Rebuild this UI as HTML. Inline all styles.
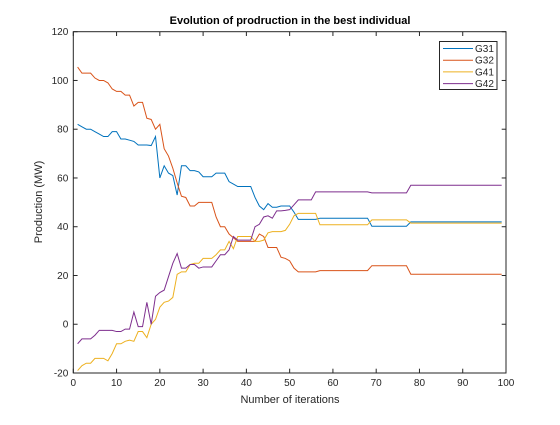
<!DOCTYPE html>
<html><head><meta charset="utf-8"><style>
body{margin:0;background:#fff;font-family:"Liberation Sans",sans-serif}
svg text{font-family:"Liberation Sans",sans-serif}
</style></head><body>
<svg id="chart" width="560" height="420" xmlns="http://www.w3.org/2000/svg">
<rect width="560" height="420" fill="#fff"/>
<text x="290" y="24" text-anchor="middle" font-size="11" font-weight="bold" fill="#000">Evolution of prodruction in the best individual</text>
<text x="290" y="403" text-anchor="middle" font-size="11" fill="#262626">Number of iterations</text>
<text transform="translate(42,202) rotate(-90)" text-anchor="middle" font-size="11" fill="#262626">Production (MW)</text>
<g id="ticks"></g>
<g id="lines"></g>
<rect x="73.3" y="31.7" width="432.7" height="341.3" fill="none" stroke="#262626" stroke-width="1"/>
<g id="legend"></g>
</svg>
<script>
const seriesNames=["G31","G32","G41","G42"];
const colors=["#0072BD","#D95319","#EDB120","#7E2F8E"];
const xTicks=[0,10,20,30,40,50,60,70,80,90,100];
const yTicks=[-20,0,20,40,60,80,100,120];
const g31=[82,81,80,80,79,78,77,77,79,79,76,76,75.5,75,73.5,73.5,73.5,73.3,77,60,65,62,61,53,65,65,63,63,62.5,60.5,60.5,60.5,62,62,62,58.5,57.5,56.5,56.5,56.5,56.5,52,48.5,47,49.5,48,48,48.5,48.5,48.5,46,43,43,43,43,43,43.5,43.5,43.5,43.5,43.5,43.5,43.5,43.5,43.5,43.5,43.5,43.5,40.2,40.2,40.2,40.2,40.2,40.2,40.2,40.2,40.2,42,42,42,42,42,42,42,42,42,42,42,42,42,42,42,42,42,42,42,42,42,42];
const g32=[105.5,103,103,103,101,100,100,99,96.5,95.5,95.5,94,94,89.5,91,91,84.5,84,80,82,72,69,64,58,52.5,52,48.5,48.5,50,50,50,50,44,40,40,37,35.5,34,34,34,34,34,37,36,31.5,31.5,31.5,27.5,27,26,23,21.5,21.5,21.5,21.5,21.5,22,22,22,22,22,22,22,22,22,22,22,22,24,24,24,24,24,24,24,24,24,20.5,20.5,20.5,20.5,20.5,20.5,20.5,20.5,20.5,20.5,20.5,20.5,20.5,20.5,20.5,20.5,20.5,20.5,20.5,20.5,20.5,20.5];
const g41=[-19,-17,-16,-16,-14,-14,-14,-15,-12,-8,-8,-7,-6.5,-7,-3,-3,-5.5,0,2,7,9,9.5,11,20.5,21.5,21.5,24.5,25,25,27,27,27,28.5,30.5,30.5,34,31,36,36,36,36,34,34,34.5,37.5,38,38,38,38.5,41,44.5,45.5,45.5,45.5,45.5,45.5,40.8,40.8,40.8,40.8,40.8,40.8,40.8,40.8,40.8,40.8,40.8,40.8,42.8,42.8,42.8,42.8,42.8,42.8,42.8,42.8,42.8,41.5,41.5,41.5,41.5,41.5,41.5,41.5,41.5,41.5,41.5,41.5,41.5,41.5,41.5,41.5,41.5,41.5,41.5,41.5,41.5,41.5,41.5];
const g42=[-8,-6,-6,-6,-4.5,-2.5,-2.5,-2.5,-2.5,-3,-3,-2,-2,5,-1,-1,9,0,11.5,13,14,19.5,25,29,23,23,24.5,24.5,23,23.5,23.5,23.5,26,28.5,28.5,30.5,36,34.5,34.5,34.5,34.5,40,41,44,44.5,43.5,46.5,46.5,46.7,47,49,51,51,51,51,54.3,54.3,54.3,54.3,54.3,54.3,54.3,54.3,54.3,54.3,54.3,54.3,54.3,53.9,53.9,53.9,53.9,53.9,53.9,53.9,53.9,53.9,57,57,57,57,57,57,57,57,57,57,57,57,57,57,57,57,57,57,57,57,57,57];
const allSeries=[g31,g32,g41,g42];
const NS="http://www.w3.org/2000/svg";
const L=73.3,R=506,T=31.7,B=373;
function xs(v){return L+(v-0)/100*(R-L);}
function ys(v){return B-(v+20)/140*(B-T);}
function mk(tag,attrs,parent){const e=document.createElementNS(NS,tag);for(const k in attrs)e.setAttribute(k,attrs[k]);parent.appendChild(e);return e;}
const tk=document.getElementById('ticks');
xTicks.forEach(v=>{const x=xs(v);
 let a=mk('line',{x1:x,x2:x,y1:B,y2:B-4.3,stroke:'#262626'},tk);
 
 
 let b=mk('line',{x1:x,x2:x,y1:T,y2:T+4.3,stroke:'#262626'},tk);
 
 
 let t=mk('text',{x:x,y:B+13,'text-anchor':'middle','font-size':'10',fill:'#262626'},tk);t.textContent=v;
 
 
});
yTicks.forEach(v=>{const y=ys(v);
 let a=mk('line',{x1:L,x2:L+4.3,y1:y,y2:y,stroke:'#262626'},tk);
 
 
 let b=mk('line',{x1:R,x2:R-4.3,y1:y,y2:y,stroke:'#262626'},tk);
 
 
 let t=mk('text',{x:L-5,y:y+3.5,'text-anchor':'end','font-size':'10',fill:'#262626'},tk);t.textContent=v;
 
 
});
const lg=document.getElementById('lines');
allSeries.forEach((s,i)=>{
 const pts=s.map((v,j)=>xs(j+1).toFixed(2)+','+ys(v).toFixed(2)).join(' ');
 const p=mk('polyline',{points:pts,fill:'none',stroke:colors[i],'stroke-width':'1'},lg);
 
 
});
const leg=document.getElementById('legend');
const box=mk('rect',{x:439.5,y:41.5,width:57.5,height:48,fill:'#fff',stroke:'#262626','stroke-width':'1'},leg);


seriesNames.forEach((n,i)=>{const y=48.5+i*11.7;
 const l=mk('line',{x1:443,x2:473,y1:y,y2:y,stroke:colors[i],'stroke-width':'1'},leg);
 
 
 const t=mk('text',{x:475,y:y+3.5,'font-size':'10',fill:'#262626'},leg);t.textContent=n;
 
 
});
</script>
</body></html>
